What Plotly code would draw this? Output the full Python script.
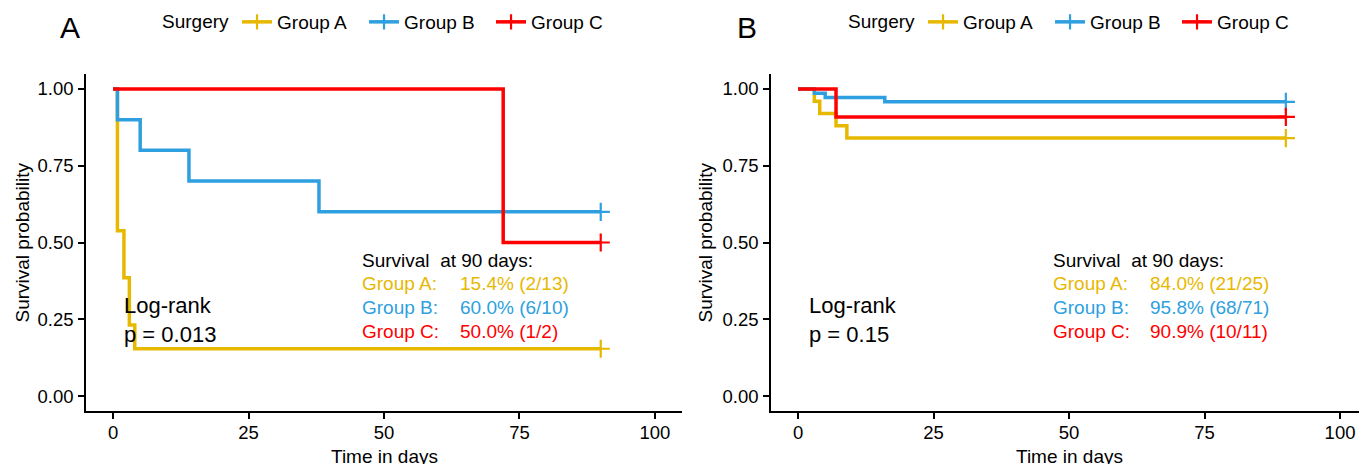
import plotly.graph_objects as go

# ---------------- data ----------------
groups = ["Group A", "Group B", "Group C"]
colors = ["#E7B800", "#2E9FDF", "#FF0000"]

# Panel A (time in days, survival probability)
a_time_A = [0, 0.8, 2, 3, 4, 90]
a_surv_A = [1.0, 0.538, 0.385, 0.231, 0.154, 0.154]
a_time_B = [0, 0.8, 5, 14, 38, 90]
a_surv_B = [1.0, 0.9, 0.8, 0.7, 0.6, 0.6]
a_time_C = [0, 72, 90]
a_surv_C = [1.0, 0.5, 0.5]

# Panel B
b_time_A = [0, 3, 4, 7, 9, 90]
b_surv_A = [1.0, 0.96, 0.92, 0.88, 0.84, 0.84]
b_time_B = [0, 3, 5, 16, 90]
b_surv_B = [1.0, 0.986, 0.972, 0.958, 0.958]
b_time_C = [0, 7, 90]
b_surv_C = [1.0, 0.909, 0.909]

a_values = ["15.4% (2/13)", "60.0% (6/10)", "50.0% (1/2)"]
b_values = ["84.0% (21/25)", "95.8% (68/71)", "90.9% (10/11)"]
a_pvalue = "p = 0.013"
b_pvalue = "p = 0.15"

x_ticks = [0, 25, 50, 75, 100]
y_ticks = [0.0, 0.25, 0.5, 0.75, 1.0]

# ---------------- figure ----------------
W, H = 1359, 464
FONT = "Liberation Sans, Arial, sans-serif"
fig = go.Figure()

panels = [
    ("x", "y", "legend", [(a_time_A, a_surv_A), (a_time_B, a_surv_B), (a_time_C, a_surv_C)]),
    ("x2", "y2", "legend2", [(b_time_A, b_surv_A), (b_time_B, b_surv_B), (b_time_C, b_surv_C)]),
]

for xa, ya, leg, series in panels:
    for g, col, (t, s) in zip(groups, colors, series):
        fig.add_trace(go.Scatter(
            x=t, y=s, mode="lines", line=dict(color=col, width=3.5, shape="hv"),
            xaxis=xa, yaxis=ya, showlegend=False, hoverinfo="skip"))
        # censor mark at last time point
        fig.add_trace(go.Scatter(
            x=[t[-1]], y=[s[-1]], mode="markers",
            marker=dict(symbol="cross-thin", size=13, line=dict(color=col, width=2.2)),
            xaxis=xa, yaxis=ya, showlegend=False, hoverinfo="skip"))
    # legend entries
    for g, col in zip(groups, colors):
        fig.add_trace(go.Scatter(
            x=[None], y=[None], mode="lines+markers", name=g,
            line=dict(color=col, width=3.5),
            marker=dict(symbol="cross-thin", size=11, line=dict(color=col, width=2.2)),
            xaxis=xa, yaxis=ya, legend=leg, showlegend=True))

def px_x(p):
    return p / W

def px_y(p):
    return 1 - p / H

axis_common = dict(
    showgrid=False, zeroline=False, showline=True, linecolor="black", linewidth=1.6,
    ticks="outside", ticklen=6, tickwidth=1.5, tickcolor="black",
    tickfont=dict(family=FONT, size=18.5, color="black"), automargin=False,
)

yd = [px_y(411.4), px_y(73.6)]
fig.update_layout(
    width=W, height=H, margin=dict(l=0, r=0, t=0, b=0),
    paper_bgcolor="white", plot_bgcolor="white",
    font=dict(family=FONT, size=19, color="black"),
    xaxis=dict(domain=[px_x(86), px_x(682)], range=[-5, 105], tickvals=x_ticks,
               anchor="y", ticklabelstandoff=-2, **axis_common),
    yaxis=dict(domain=yd, range=[-0.05, 1.05], tickvals=y_ticks, tickformat=".2f",
               anchor="x", ticklabelstandoff=1, **axis_common),
    xaxis2=dict(domain=[px_x(771), 1.0], range=[-5, 103.5], tickvals=x_ticks,
                anchor="y2", ticklabelstandoff=-2, **axis_common),
    yaxis2=dict(domain=yd, range=[-0.05, 1.05], tickvals=y_ticks, tickformat=".2f",
                anchor="x2", ticklabelstandoff=1, **axis_common),
    legend=dict(orientation="h", x=px_x(160), xanchor="left", y=px_y(22), yanchor="middle",
                title=dict(text="Surgery", font=dict(size=19, family=FONT)),
                font=dict(size=19, family=FONT), bgcolor="rgba(0,0,0,0)", entrywidth=82),
    legend2=dict(orientation="h", x=px_x(846), xanchor="left", y=px_y(22), yanchor="middle",
                 title=dict(text="Surgery", font=dict(size=19, family=FONT)),
                 font=dict(size=19, family=FONT), bgcolor="rgba(0,0,0,0)", entrywidth=82),
)

ann = []
# panel labels
ann.append(dict(text="A", x=px_x(70), y=px_y(27), xref="paper", yref="paper",
                xanchor="center", yanchor="middle",
                showarrow=False, font=dict(size=30, family=FONT, color="black")))
ann.append(dict(text="B", x=px_x(747), y=px_y(27), xref="paper", yref="paper",
                xanchor="center", yanchor="middle",
                showarrow=False, font=dict(size=30, family=FONT, color="black")))
# axis titles
for xc, yc in [(22, 242.5), (705, 242.5)]:
    ann.append(dict(text="Survival probability", x=px_x(xc), y=px_y(yc), xref="paper", yref="paper",
                    xanchor="center", yanchor="middle",
                    textangle=-90, showarrow=False, font=dict(size=19, family=FONT, color="black")))
for xc in [384, 1069]:
    ann.append(dict(text="Time in days", x=px_x(xc), y=px_y(456), xref="paper", yref="paper",
                    xanchor="center", yanchor="middle",
                    showarrow=False, font=dict(size=19, family=FONT, color="black")))

# in-plot texts
for xr, yr, xl, xv, vals, pv in [("x", "y", 45.55, 63.65, a_values, a_pvalue),
                                  ("x2", "y2", 46.65, 64.65, b_values, b_pvalue)]:
    ann.append(dict(text="Survival\u00a0 at 90 days:", x=xl, y=0.443, xref=xr, yref=yr,
                    xanchor="left", yanchor="middle", showarrow=False,
                    font=dict(size=19, family=FONT, color="black")))
    for g, col, v, yy in zip(groups, colors, vals, [0.365, 0.288, 0.209]):
        ann.append(dict(text=g + ":", x=xl, y=yy, xref=xr, yref=yr, xanchor="left", yanchor="middle",
                        showarrow=False, font=dict(size=19, family=FONT, color=col)))
        ann.append(dict(text=v, x=xv, y=yy, xref=xr, yref=yr, xanchor="left", yanchor="middle",
                        showarrow=False, font=dict(size=19, family=FONT, color=col)))
    ann.append(dict(text="Log-rank", x=1.7, y=0.296, xref=xr, yref=yr, xanchor="left", yanchor="middle",
                    showarrow=False, font=dict(size=22, family=FONT, color="black")))
    ann.append(dict(text=pv, x=1.7, y=0.202, xref=xr, yref=yr, xanchor="left", yanchor="middle",
                    showarrow=False, font=dict(size=22, family=FONT, color="black")))

fig.update_layout(annotations=ann)
fig.write_html("out.html", config={"displayModeBar": False},
               post_script="document.body.style.margin='0';document.body.style.overflow='hidden';")
